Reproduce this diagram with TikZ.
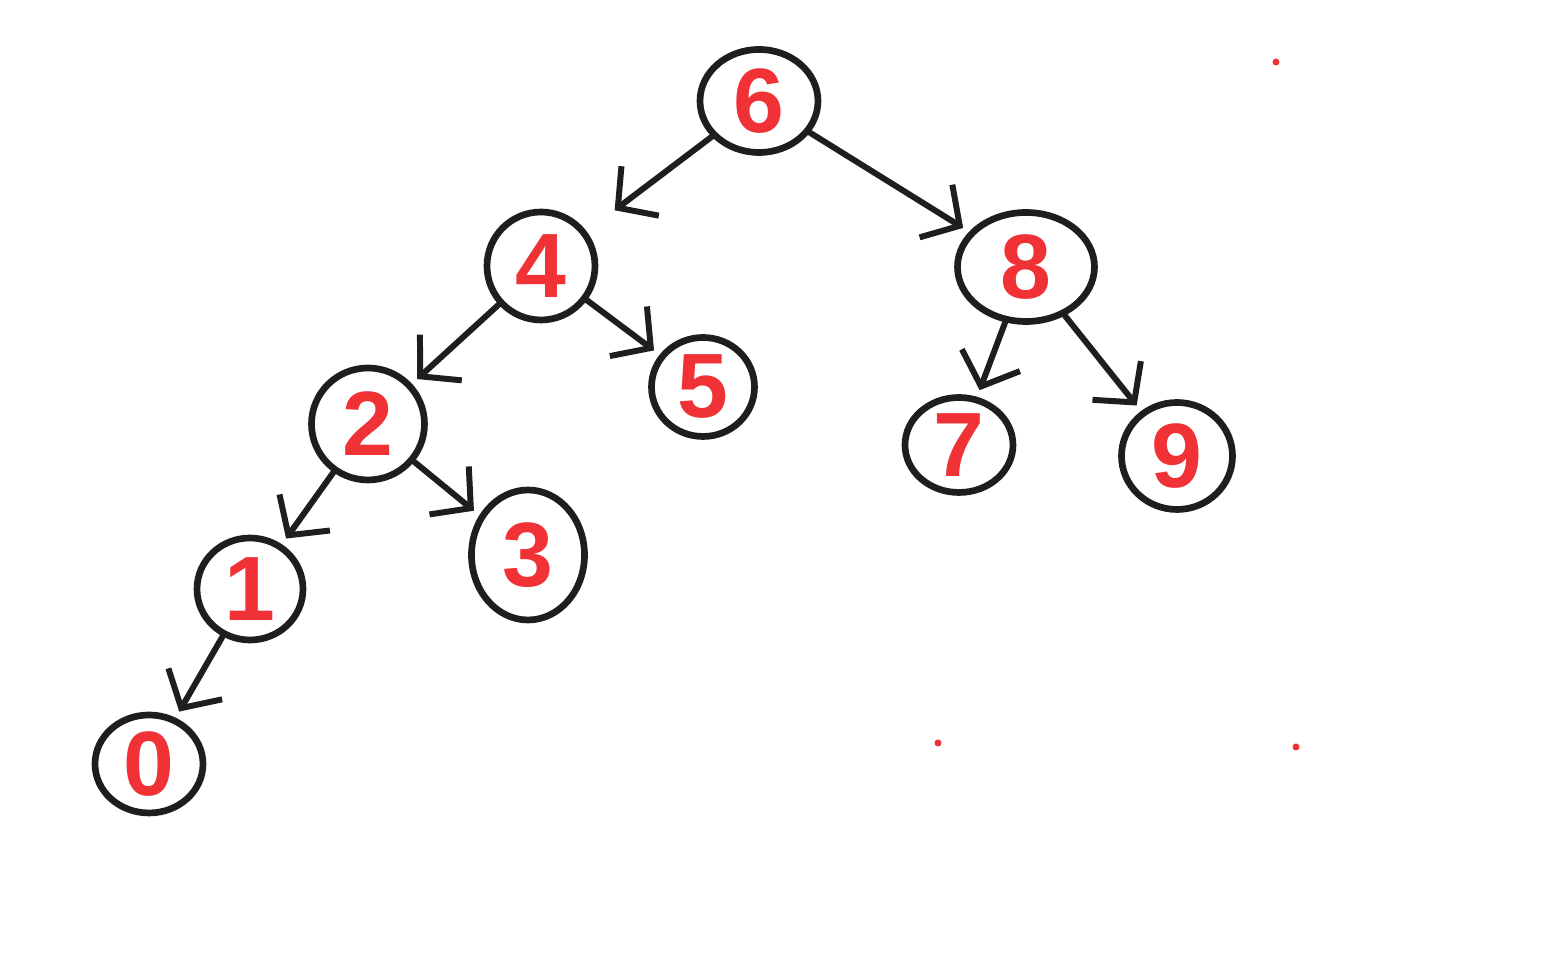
\documentclass[tikz,border=0pt]{standalone}
\usepackage{fontspec}
\setmainfont{Liberation Sans}
\usetikzlibrary{arrows.meta,shapes.geometric}
\definecolor{ink}{RGB}{30,30,30}
\definecolor{redink}{RGB}{240,50,55}
\begin{document}
\begin{tikzpicture}[
  tnode/.style={draw=ink, line width=1.9pt, ellipse, inner sep=0pt,
    text=redink, font=\fontsize{26}{30}\selectfont\bfseries},
  edge/.style={draw=ink, line width=1.7pt, line cap=round, line join=round,
    -{Straight Barb[length=0.28cm,width=0.62cm,line width=1.7pt]}, shorten >=2pt},
  dotmark/.style={fill=redink, draw=none, circle, inner sep=0pt, minimum size=0.07cm}
]
\useasboundingbox (0,0) rectangle (15.46,-9.74);
\fill[white] (0,0) rectangle (15.46,-9.74);

\node[tnode, minimum width=1.18cm, minimum height=1.03cm] (n6) at (7.59,-1.01) {6};
\node[tnode, minimum width=1.08cm, minimum height=1.08cm] (n4) at (5.41,-2.66) {4};
\node[tnode, minimum width=1.37cm, minimum height=1.09cm] (n8) at (10.26,-2.67) {8};
\node[tnode, minimum width=1.13cm, minimum height=1.12cm] (n2) at (3.68,-4.24) {2};
\node[tnode, minimum width=1.03cm, minimum height=0.99cm] (n5) at (7.03,-3.87) {5};
\node[tnode, minimum width=1.08cm, minimum height=0.95cm] (n7) at (9.59,-4.45) {7};
\node[tnode, minimum width=1.11cm, minimum height=1.07cm] (n9) at (11.77,-4.56) {9};
\node[tnode, minimum width=1.06cm, minimum height=1.02cm] (n1) at (2.50,-5.89) {1};
\node[tnode, minimum width=1.13cm, minimum height=1.30cm] (n3) at (5.28,-5.55) {3};
\node[tnode, minimum width=1.08cm, minimum height=0.98cm] (n0) at (1.49,-7.64) {0};

\draw[edge, shorten >=0.35cm] (n6) -- (n4);
\draw[edge] (n6) -- (n8);
\draw[edge] (n4) -- (n2);
\draw[edge] (n4) -- (n5);
\draw[edge] (n2) -- (n1);
\draw[edge] (n2) -- (n3);
\draw[edge] (n1) -- (n0);
\draw[edge] (n8) -- (n7);
\draw[edge] (n8) -- (n9);

\node[dotmark] (d1) at (12.76,-0.62) {};
\node[dotmark] (d2) at (9.38,-7.43) {};
\node[dotmark] (d3) at (12.96,-7.47) {};
\end{tikzpicture}
\end{document}
